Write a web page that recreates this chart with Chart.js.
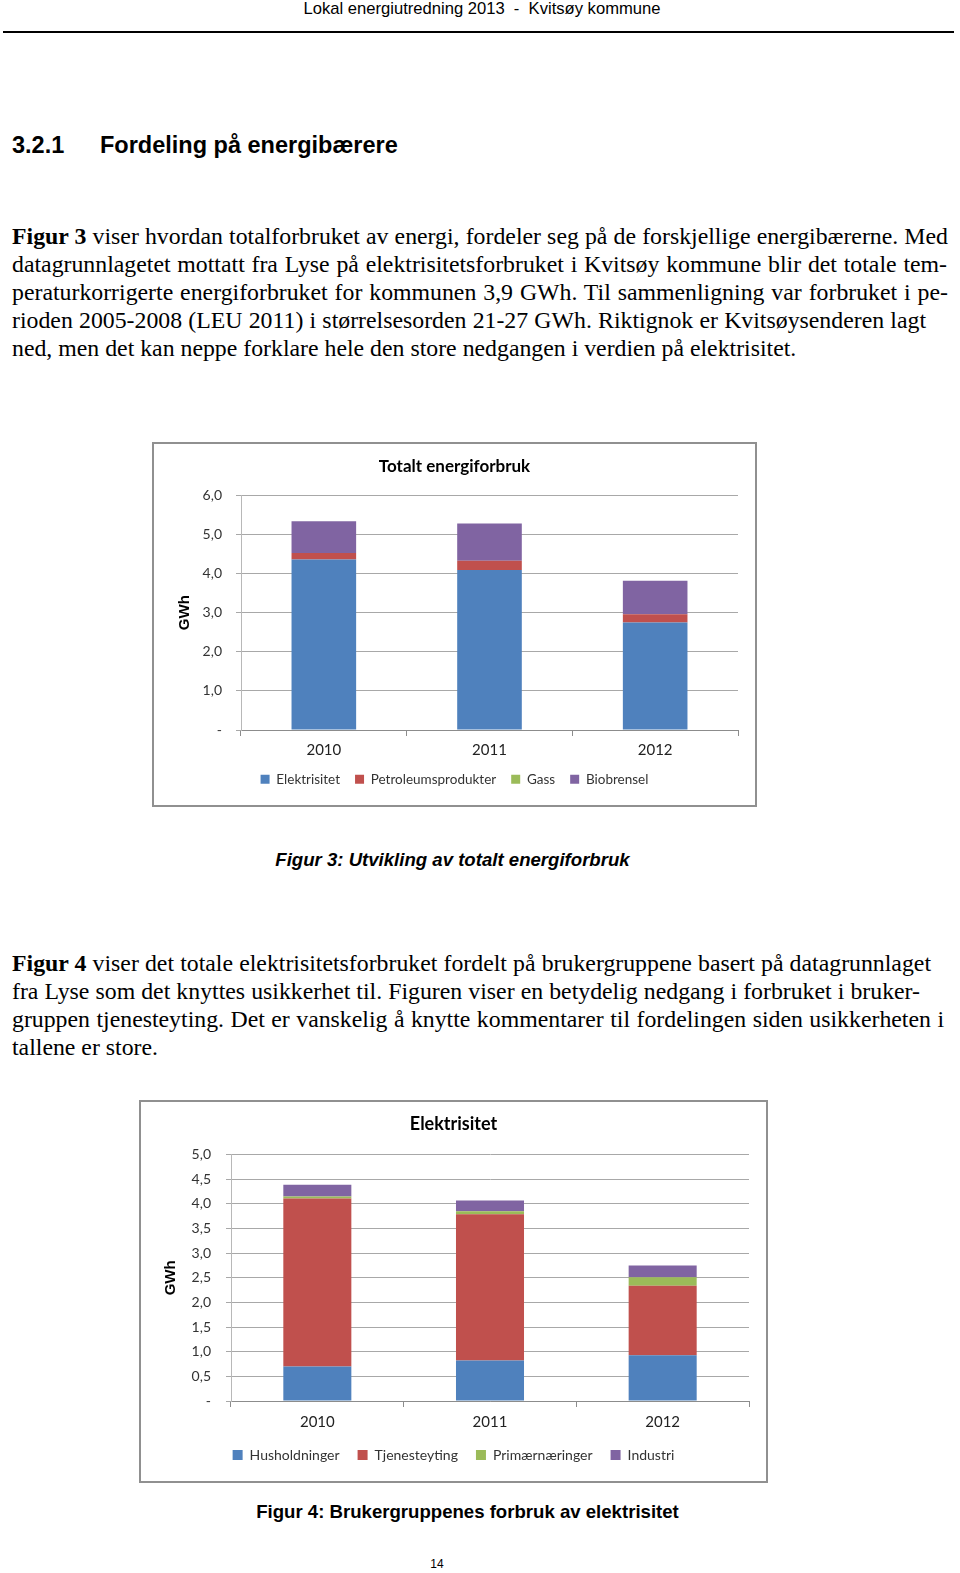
<!DOCTYPE html>
<html><head><meta charset="utf-8">
<script src="https://cdn.jsdelivr.net/npm/chart.js@4.4.1/dist/chart.umd.min.js"></script>
<style>
html,body{margin:0;padding:0;background:#fff;}
body{width:960px;height:1573px;position:relative;overflow:hidden;}
.t{position:absolute;white-space:nowrap;color:#000;}
.serif{font-family:"Liberation Serif","Times New Roman",serif;font-size:23.8px;line-height:28px;height:28px;}
.just{text-align:justify;text-align-last:justify;}
.sans{font-family:"Liberation Sans",Arial,sans-serif;}
.box{position:absolute;border:2px solid #909090;box-sizing:border-box;pointer-events:none;}
canvas{position:absolute;}
</style></head>
<body>
<div class="t sans" style="left:2px;width:960px;text-align:center;top:-1px;font-size:16.6px;line-height:20px;">Lokal energiutredning 2013 &nbsp;- &nbsp;Kvitsøy kommune</div>
<div style="position:absolute;left:3px;top:31px;width:951px;height:2px;background:#000;"></div>

<div class="t sans" style="left:12px;top:130.5px;font-size:23.5px;line-height:28px;font-weight:bold;">3.2.1</div>
<div class="t sans" style="left:100px;top:130.5px;font-size:23.5px;line-height:28px;font-weight:bold;">Fordeling på energibærere</div>

<div class="t serif just" style="left:12px;top:221.8px;width:936px;"><b>Figur 3</b> viser hvordan totalforbruket av energi, fordeler seg på de forskjellige energibærerne. Med</div>
<div class="t serif just" style="left:12px;top:249.8px;width:935px;">datagrunnlagetet mottatt fra Lyse på elektrisitetsforbruket i Kvitsøy kommune blir det totale tem-</div>
<div class="t serif just" style="left:12px;top:277.9px;width:936px;">peraturkorrigerte energiforbruket for kommunen 3,9 GWh. Til sammenligning var forbruket i pe-</div>
<div class="t serif just" style="left:12px;top:306px;width:914px;">rioden 2005-2008 (LEU 2011) i størrelsesorden 21-27 GWh. Riktignok er Kvitsøysenderen lagt</div>
<div class="t serif" style="left:12px;top:334.1px;">ned, men det kan neppe forklare hele den store nedgangen i verdien på elektrisitet.</div>

<canvas id="c1" width="605" height="365" style="left:152px;top:442px;"></canvas>
<div class="box" style="left:152px;top:442px;width:605px;height:365px;"></div>

<div class="t sans" style="left:0;width:905px;text-align:center;top:845.7px;font-size:18.6px;line-height:28px;font-weight:bold;font-style:italic;">Figur 3: Utvikling av totalt energiforbruk</div>

<div class="t serif just" style="left:12px;top:949px;width:919px;"><b>Figur 4</b> viser det totale elektrisitetsforbruket fordelt på brukergruppene basert på datagrunnlaget</div>
<div class="t serif just" style="left:12px;top:977px;width:908px;">fra Lyse som det knyttes usikkerhet til. Figuren viser en betydelig nedgang i forbruket i bruker-</div>
<div class="t serif just" style="left:12px;top:1005px;width:932px;">gruppen tjenesteyting. Det er vanskelig å knytte kommentarer til fordelingen siden usikkerheten i</div>
<div class="t serif" style="left:12px;top:1033px;">tallene er store.</div>

<canvas id="c2" width="629" height="383" style="left:139px;top:1100px;"></canvas>
<div class="box" style="left:139px;top:1100px;width:629px;height:383px;"></div>

<div class="t sans" style="left:0;width:935px;text-align:center;top:1497.8px;font-size:18.6px;line-height:28px;font-weight:bold;">Figur 4: Brukergruppenes forbruk av elektrisitet</div>
<div class="t sans" style="left:0;width:874px;text-align:center;top:1554px;font-size:12px;line-height:20px;">14</div>

<script>
const years = ['2010', '2011', '2012'];

// Figur 3: Totalt energiforbruk (GWh)
const elektrisitet = [4.36, 4.09, 2.75];
const petroleumsprodukter = [0.17, 0.24, 0.21];
const gass = [0, 0, 0];
const biobrensel = [0.81, 0.95, 0.86];

// Figur 4: Elektrisitet per brukergruppe (GWh)
const husholdninger = [0.70, 0.82, 0.93];
const tjenesteyting = [3.41, 2.97, 1.41];
const primaernaeringer = [0.04, 0.06, 0.17];
const industri = [0.24, 0.22, 0.24];

const seriesColors = ['#4F81BD', '#C0504D', '#9BBB59', '#8064A2'];
const chartFont = 'Lato, "Open Sans", sans-serif';

function fmt(v) { return v === 0 ? '-' : Number(v).toFixed(1).replace('.', ','); }

function build(id, cfg) {
  new Chart(document.getElementById(id), {
    type: 'bar',
    data: {
      labels: years,
      datasets: cfg.series.map((s, i) => ({
        label: s.label, data: s.data, backgroundColor: seriesColors[i],
        borderWidth: 0, barPercentage: cfg.barPct, categoryPercentage: 1
      }))
    },
    options: {
      responsive: false, animation: false, devicePixelRatio: 1,
      layout: { padding: { top: 0, left: cfg.padSide, right: cfg.padSide, bottom: cfg.padBottom } },
      plugins: {
        title: { display: true, text: cfg.title, color: '#000',
          font: { family: chartFont, size: cfg.titleSize, weight: 'bold' },
          padding: { top: cfg.titleTop, bottom: cfg.titleGap } },
        legend: { position: 'bottom',
          labels: { boxWidth: cfg.box, boxHeight: cfg.box, color: '#333', padding: cfg.legendPad,
            font: { family: chartFont, size: cfg.legendSize } } },
        tooltip: { enabled: false }
      },
      scales: {
        x: { stacked: true,
          grid: { display: true, drawOnChartArea: false, offset: true, tickLength: 6, color: '#8c8c8c' },
          border: { color: '#8c8c8c' },
          ticks: { padding: cfg.xPad, color: '#222', font: { family: chartFont, size: 15, lineHeight: 1 } },
          afterFit: s => { s.height = cfg.xHeight; } },
        y: { stacked: true, min: 0, max: cfg.max,
          ticks: { stepSize: cfg.step, callback: v => fmt(v), padding: cfg.yPad, color: '#333',
            font: { family: chartFont, size: 14 } },
          grid: { color: '#a8a8a8', drawTicks: true, tickLength: 5 },
          border: { color: '#b8b8b8' },
          title: { display: true, text: 'GWh', color: '#000',
            font: { family: '"Liberation Sans", Arial, sans-serif', size: 15, weight: 'bold' },
            padding: { top: cfg.gwhTop, bottom: 0 } },
          afterFit: s => { s.width = cfg.yWidth; } }
      }
    }
  });
}

build('c1', {
  title: 'Totalt energiforbruk', titleSize: 17, titleTop: 14, titleGap: 19,
  series: [
    { label: 'Elektrisitet', data: elektrisitet },
    { label: 'Petroleumsprodukter', data: petroleumsprodukter },
    { label: 'Gass', data: gass },
    { label: 'Biobrensel', data: biobrensel }
  ],
  max: 6, step: 1, barPct: 0.39, padSide: 19, padBottom: 11,
  xHeight: 27.5, xPad: 6.5, yWidth: 70, yPad: 14, gwhTop: 5,
  legendSize: 13.5, legendPad: 15, box: 9
});

build('c2', {
  title: 'Elektrisitet', titleSize: 18, titleTop: 13, titleGap: 20,
  series: [
    { label: 'Husholdninger', data: husholdninger },
    { label: 'Tjenesteyting', data: tjenesteyting },
    { label: 'Primærnæringer', data: primaernaeringer },
    { label: 'Industri', data: industri }
  ],
  max: 5, step: 0.5, barPct: 0.394, padSide: 19, padBottom: 11,
  xHeight: 29, xPad: 8, yWidth: 73, yPad: 15, gwhTop: 4,
  legendSize: 14, legendPad: 18, box: 10
});
</script>
</body></html>
